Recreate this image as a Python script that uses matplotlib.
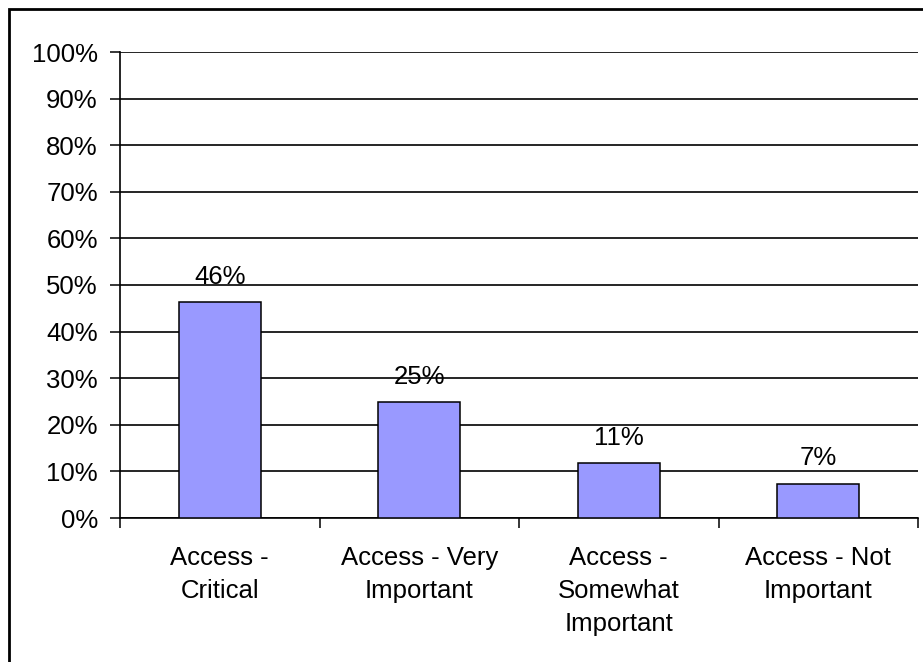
import matplotlib
matplotlib.use("Agg")
import matplotlib.pyplot as plt
from matplotlib.patches import Rectangle

categories = ["Access -\nCritical", "Access - Very\nImportant", "Access -\nSomewhat\nImportant", "Access - Not\nImportant"]
values = [46.3, 24.8, 11.7, 7.4]
labels = ["46%", "25%", "11%", "7%"]
yticks = [0, 10, 20, 30, 40, 50, 60, 70, 80, 90, 100]
ytick_labels = [f"{v}%" for v in yticks]

plt.rcParams['font.family'] = ['Liberation Sans', 'DejaVu Sans']

W, H = 923, 662
FS = 18.5
fig = plt.figure(figsize=(W / 100, H / 100), dpi=100)
ax = fig.add_axes([120 / W, 1 - 518 / H, (918 - 120) / W, (518 - 52) / H])

x = [i + 0.5 for i in range(len(values))]
ax.bar(x, values, width=0.41, color="#9999FF", edgecolor="black", linewidth=1.1, zorder=3)
for xi, v, lab in zip(x, values, labels):
    ax.text(xi, v + 2.9, lab, ha="center", va="bottom", fontsize=FS, zorder=4)

ax.set_xlim(0, 4)
ax.set_ylim(0, 100)
ax.set_yticks(yticks)
ax.set_yticklabels(ytick_labels, fontsize=FS)
ax.yaxis.grid(True, color="black", linewidth=1.2, zorder=0)
ax.set_axisbelow(True)

ax.set_xticks([0, 1, 2, 3, 4])
ax.set_xticklabels([])
ax.set_xticks(x, minor=True)
ax.set_xticklabels(categories, minor=True, fontsize=FS, linespacing=1.47)
ax.tick_params(axis="x", which="minor", length=0, pad=20.5)
ax.tick_params(axis="x", which="major", length=7, width=1.1, direction="out", color="black")
ax.tick_params(axis="y", length=7, width=1.1, direction="out", pad=9)

for s in ["top", "right"]:
    ax.spines[s].set_visible(False)
ax.spines["left"].set_linewidth(1.2)
ax.spines["bottom"].set_linewidth(1.2)

fig.patches.append(Rectangle((9 / W, -0.1), 1.2, 1 - 9 / H + 0.1, transform=fig.transFigure,
                             fill=False, edgecolor="black", linewidth=2))

fig.savefig("out.png", dpi=100)
